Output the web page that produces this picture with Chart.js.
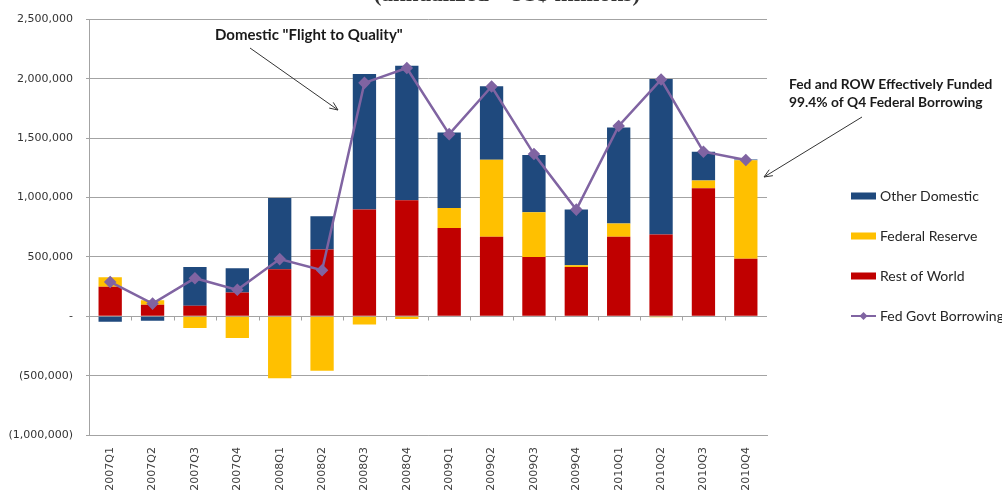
<!DOCTYPE html>
<html>
<head>
<meta charset="utf-8">
<script src="https://cdn.jsdelivr.net/npm/chart.js@4.4.1/dist/chart.umd.min.js"></script>
<style>
  html, body { margin: 0; padding: 0; background: #fff; }
  #wrap { width: 1002px; height: 491px; position: relative; }
</style>
</head>
<body>
<div id="wrap"><canvas id="chart"></canvas></div>
<script>
// quarters on the x axis
var quarters = [
    "2007Q1", "2007Q2", "2007Q3", "2007Q4",
    "2008Q1", "2008Q2", "2008Q3", "2008Q4",
    "2009Q1", "2009Q2", "2009Q3", "2009Q4",
    "2010Q1", "2010Q2", "2010Q3", "2010Q4"
];

// annualized, US$ millions
var restOfWorld = [250000, 97000, 88000, 200000, 397000, 564000, 899000, 977000,
    745000, 670000, 500000, 416000, 670000, 690000, 1080000, 485000];
var federalReserve = [80000, 39000, -99000, -183000, -522000, -458000, -69000, -22000,
    167000, 650000, 376000, 14000, 112000, -8000, 64000, 829000];
var otherDomestic = [-45000, -38000, 328000, 205000, 600000, 279000, 1143000, 1135000,
    636000, 619000, 483000, 469000, 808000, 1310000, 243000, 8000];
var fedGovtBorrowing = [290000, 107000, 321000, 223000, 482000, 388000, 1967000, 2092000,
    1535000, 1936000, 1367000, 899000, 1604000, 1995000, 1387000, 1317000];

var yTicks = [-1000000, -500000, 0, 500000, 1000000, 1500000, 2000000, 2500000];

var BLUE = "#1F497D", GOLD = "#FFC000", RED = "#C00000", PURPLE = "#8064A2";
var GRID = "#a3a3a3";
var TICK_FONT = "DejaVu Sans";
var NOTE_FONT = "Lato";

function fmtAcct(v) {
    if (v === 0) return "-";
    var s = Math.abs(v).toLocaleString("en-US");
    return v < 0 ? "(" + s + ")" : s;
}

function arrow(ctx, x1, y1, x2, y2) {
    var a = Math.atan2(y2 - y1, x2 - x1), h = 9;
    ctx.beginPath();
    ctx.moveTo(x1, y1);
    ctx.lineTo(x2, y2);
    ctx.moveTo(x2 - h * Math.cos(a - 0.4), y2 - h * Math.sin(a - 0.4));
    ctx.lineTo(x2, y2);
    ctx.lineTo(x2 - h * Math.cos(a + 0.4), y2 - h * Math.sin(a + 0.4));
    ctx.stroke();
}

// extra drawing: zero-line ticks, legend, notes, clipped title
var extras = {
    id: "extras",
    afterDraw: function (chart) {
        var ctx = chart.ctx, ys = chart.scales.y;
        var area = chart.chartArea;
        var y0 = Math.round(ys.getPixelForValue(0)) + 0.5;
        var step = (area.right - area.left) / quarters.length;
        ctx.save();
        ctx.strokeStyle = GRID;
        ctx.lineWidth = 1;
        ctx.beginPath();
        for (var i = 1; i < quarters.length; i++) {
            var x = Math.round(area.left + i * step) + 0.5;
            ctx.moveTo(x, y0);
            ctx.lineTo(x, y0 + 4);
        }
        ctx.stroke();

        // legend
        var items = [
            { label: "Other Domestic", color: BLUE, line: false },
            { label: "Federal Reserve", color: GOLD, line: false },
            { label: "Rest of World", color: RED, line: false },
            { label: "Fed Govt Borrowing", color: PURPLE, line: true }
        ];
        ctx.font = "14px " + NOTE_FONT;
        ctx.textBaseline = "middle";
        ctx.textAlign = "left";
        items.forEach(function (it, k) {
            var cy = 196 + k * 40;
            if (it.line) {
                ctx.strokeStyle = it.color;
                ctx.lineWidth = 2;
                ctx.beginPath();
                ctx.moveTo(851, cy);
                ctx.lineTo(876, cy);
                ctx.stroke();
                ctx.fillStyle = it.color;
                ctx.beginPath();
                ctx.moveTo(863.5, cy - 4);
                ctx.lineTo(867.5, cy);
                ctx.lineTo(863.5, cy + 4);
                ctx.lineTo(859.5, cy);
                ctx.closePath();
                ctx.fill();
            } else {
                ctx.fillStyle = it.color;
                ctx.fillRect(851, cy - 3.5, 25, 7);
            }
            ctx.fillStyle = "#262626";
            ctx.fillText(it.label, 880, cy);
        });

        // annotations
        ctx.fillStyle = "#1a1a1a";
        ctx.textAlign = "left";
        ctx.font = "bold 15px " + NOTE_FONT;
        ctx.fillText("Domestic \"Flight to Quality\"", 215, 35);
        ctx.font = "bold 13.8px " + NOTE_FONT;
        ctx.fillText("Fed and ROW Effectively Funded", 789, 85);
        ctx.fillText("99.4% of Q4 Federal Borrowing", 789, 103);
        ctx.strokeStyle = "#333";
        ctx.lineWidth = 1;
        arrow(ctx, 250, 48, 338, 110);
        arrow(ctx, 862, 117, 764, 177);

        // title, mostly above the top edge
        ctx.fillStyle = "#333";
        ctx.font = "bold 23px 'Liberation Serif'";
        ctx.textAlign = "center";
        ctx.textBaseline = "alphabetic";
        ctx.fillText("(annualized - US$ millions)", 507, 1);
        ctx.restore();
    }
};

var barCommon = { type: "bar", order: 1, barPercentage: 0.55, categoryPercentage: 1, borderWidth: 0 };

new Chart(document.getElementById("chart"), {
    data: {
        labels: quarters,
        datasets: [
            {
                type: "line", order: 0, label: "Fed Govt Borrowing", data: fedGovtBorrowing,
                borderColor: PURPLE, backgroundColor: PURPLE, borderWidth: 2.5,
                pointStyle: "rectRot", pointRadius: 4.5, pointBackgroundColor: PURPLE,
                pointBorderColor: PURPLE, tension: 0
            },
            Object.assign({ label: "Rest of World", data: restOfWorld, backgroundColor: RED }, barCommon),
            Object.assign({ label: "Federal Reserve", data: federalReserve, backgroundColor: GOLD }, barCommon),
            Object.assign({ label: "Other Domestic", data: otherDomestic, backgroundColor: BLUE }, barCommon)
        ]
    },
    options: {
        responsive: true,
        maintainAspectRatio: false,
        animation: false,
        layout: { padding: { top: 11, right: 235, left: 0, bottom: 0 } },
        plugins: { legend: { display: false }, tooltip: { enabled: false } },
        scales: {
            x: {
                stacked: true,
                grid: { display: false, drawTicks: false },
                border: { display: true, color: GRID },
                ticks: {
                    minRotation: 90, maxRotation: 90, padding: 12, autoSkip: false,
                    color: "#404040", font: { family: TICK_FONT, size: 11 }
                },
                afterFit: function (s) { s.height = 56; }
            },
            y: {
                stacked: true,
                min: -1000000, max: 2500000,
                afterBuildTicks: function (s) { s.ticks = yTicks.map(function (v) { return { value: v }; }); },
                grid: { color: GRID, drawTicks: true, tickLength: 3 },
                border: { display: true, color: GRID },
                ticks: {
                    padding: 13, color: "#333333", font: { family: TICK_FONT, size: 11 },
                    callback: function (v) { return fmtAcct(v); }
                },
                afterFit: function (s) { s.width = 89; }
            }
        }
    },
    plugins: [extras]
});
</script>
</body>
</html>
